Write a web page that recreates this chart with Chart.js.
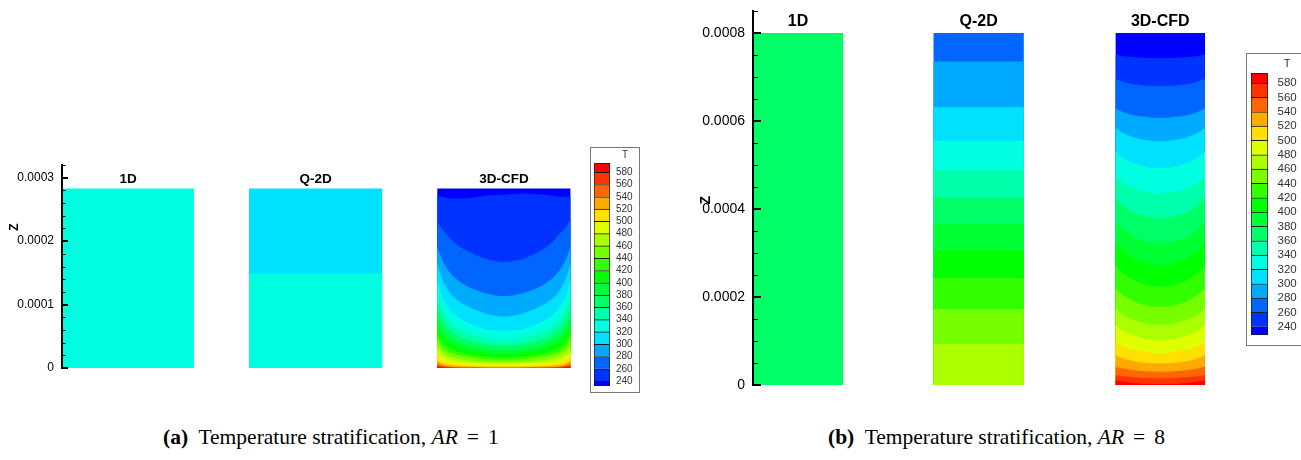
<!DOCTYPE html>
<html><head><meta charset="utf-8">
<script src="https://cdn.jsdelivr.net/npm/chart.js@4.4.1/dist/chart.umd.min.js"></script>
<style>
html,body{margin:0;padding:0;background:#fff;width:1301px;height:460px;overflow:hidden;position:relative;}
canvas{position:absolute;display:block;}
.cap{position:absolute;font-family:'Liberation Serif','Times New Roman',serif;font-size:21.5px;color:#000;white-space:nowrap;line-height:22px;}
.cap .eq{margin:0 9px;}
.cbox{position:absolute;border:1px solid #777;background:#fff;}
.tlab{position:absolute;font-family:'Liberation Sans',Arial,sans-serif;color:#333;transform:translate(-50%,-50%);line-height:1;}
</style></head><body>
<div class="cbox" style="left:590px;top:147px;width:48px;height:244px"></div>
<div class="cbox" style="left:1246px;top:53px;width:80px;height:291px"></div>
<canvas id="mainA" width="572" height="223" style="left:0;top:155px"></canvas>
<canvas id="cbA" width="45" height="239" style="left:594px;top:155px"></canvas>
<canvas id="mainB" width="516" height="395" style="left:690px;top:0"></canvas>
<canvas id="cbB" width="50" height="278" style="left:1251px;top:65px"></canvas>
<div class="tlab" style="left:625px;top:155px;font-size:10px">T</div>
<div class="tlab" style="left:1287px;top:63px;font-size:11px">T</div>
<div class="cap" style="left:163px;top:426px"><b>(a)</b>&nbsp; Temperature stratification, <i>AR</i><span class="eq">=</span>1</div>
<div class="cap" style="left:828px;top:426px"><b>(b)</b>&nbsp; Temperature stratification, <i>AR</i><span class="eq">=</span>8</div>
<script>
// ---------------- DATA ----------------
const Z_UNIT = 1e-4;                      // heights below are in units of 1e-4 (Z axis)
const columns = ['1D', 'Q-2D', '3D-CFD'];
const levels = [240,260,280,300,320,340,360,380,400,420,440,460,480,500,520,540,560,580];
const bandColors = ['#0000FF','#0033FF','#0066FF','#00AAFF','#00E0FF','#00FFE0','#00FFAA','#00FF66','#00FF33',
                    '#00FF00','#33FF00','#77FF00','#AAFF00','#DDFF00','#FFE000','#FFAA00','#FF6600','#FF3300','#FF0000'];
const yTicksA = [0, 0.0001, 0.0002, 0.0003];
const yTicksB = [0, 0.0002, 0.0004, 0.0006, 0.0008];

// Panel (a) AR = 1
const heightA = 2.83;
const oneD_A_T = 330;
const q2dA_bounds = [0, 1.49, 2.83];
const q2dA_T = [330, 310];
const cfdA_x = [0, 0.03, 0.08, 0.15, 0.25, 0.375, 0.5, 0.625, 0.75, 0.85, 0.92, 0.97, 1];
const cfdA_iso = [
  /*240*/ [2.71, 2.70, 2.68, 2.67, 2.68, 2.72, 2.73, 2.75, 2.74, 2.72, 2.70, 2.70, 2.70],
  /*260*/ [2.31, 2.21, 2.08, 1.94, 1.82, 1.71, 1.67, 1.71, 1.82, 1.96, 2.12, 2.24, 2.34],
  /*280*/ [1.91, 1.74, 1.55, 1.39, 1.26, 1.17, 1.13, 1.17, 1.26, 1.39, 1.55, 1.74, 1.91],
  /*300*/ [1.66, 1.45, 1.23, 1.07, 0.95, 0.85, 0.81, 0.85, 0.95, 1.07, 1.23, 1.45, 1.66],
  /*320*/ [1.39, 1.17, 0.96, 0.81, 0.69, 0.61, 0.58, 0.61, 0.69, 0.81, 0.96, 1.17, 1.39],
  /*340*/ [1.18, 0.96, 0.77, 0.63, 0.54, 0.47, 0.44, 0.47, 0.54, 0.63, 0.77, 0.96, 1.18],
  /*360*/ [0.99, 0.79, 0.63, 0.51, 0.43, 0.37, 0.35, 0.37, 0.43, 0.51, 0.63, 0.79, 0.99],
  /*380*/ [0.84, 0.66, 0.52, 0.42, 0.35, 0.30, 0.28, 0.30, 0.35, 0.42, 0.52, 0.66, 0.84],
  /*400*/ [0.71, 0.55, 0.43, 0.34, 0.28, 0.24, 0.22, 0.24, 0.28, 0.34, 0.43, 0.55, 0.71],
  /*420*/ [0.57, 0.44, 0.33, 0.26, 0.21, 0.18, 0.17, 0.18, 0.21, 0.26, 0.33, 0.44, 0.57],
  /*440*/ [0.47, 0.35, 0.26, 0.21, 0.17, 0.14, 0.13, 0.14, 0.17, 0.21, 0.26, 0.35, 0.47],
  /*460*/ [0.36, 0.27, 0.20, 0.15, 0.12, 0.10, 0.095, 0.10, 0.12, 0.15, 0.20, 0.27, 0.36],
  /*480*/ [0.27, 0.20, 0.14, 0.11, 0.085, 0.070, 0.062, 0.070, 0.085, 0.11, 0.14, 0.20, 0.27],
  /*500*/ [0.19, 0.13, 0.085, 0.060, 0.045, 0.035, 0.030, 0.035, 0.045, 0.060, 0.085, 0.13, 0.19],
  /*520*/ [0.12, 0.080, 0.050, 0.035, 0.024, 0.020, 0.018, 0.020, 0.024, 0.035, 0.050, 0.080, 0.12],
  /*540*/ [0.075, 0.045, 0.025, 0.015, 0.010, 0.008, 0.007, 0.008, 0.010, 0.015, 0.025, 0.045, 0.075],
  /*560*/ [0.045, 0.025, 0.012, 0.005, 0.002, 0, 0, 0, 0.002, 0.005, 0.012, 0.025, 0.045],
  /*580*/ [0.022, 0.010, 0.002, 0, 0, 0, 0, 0, 0, 0, 0.002, 0.010, 0.022]
];

// Panel (b) AR = 8
const heightB = 8.0;
const oneD_B_T = 370;
const q2dB_bounds = [0, 0.93, 1.73, 2.43, 3.06, 3.66, 4.27, 4.89, 5.55, 6.31, 7.35, 8.0];
const q2dB_T = [470, 450, 430, 410, 390, 370, 350, 330, 310, 290, 270];
const cfdB_x = [0, 0.05, 0.15, 0.3, 0.5, 0.7, 0.85, 0.95, 1];
const cfdB_iso = [
  /*240*/ [7.51, 7.49, 7.46, 7.44, 7.43, 7.44, 7.46, 7.49, 7.51],
  /*260*/ [6.96, 6.92, 6.86, 6.81, 6.79, 6.81, 6.86, 6.92, 6.96],
  /*280*/ [6.29, 6.24, 6.16, 6.10, 6.07, 6.10, 6.16, 6.24, 6.29],
  /*300*/ [5.84, 5.77, 5.67, 5.58, 5.54, 5.58, 5.67, 5.77, 5.84],
  /*320*/ [5.31, 5.22, 5.09, 4.98, 4.93, 4.98, 5.09, 5.22, 5.31],
  /*340*/ [4.74, 4.65, 4.52, 4.41, 4.36, 4.41, 4.52, 4.65, 4.74],
  /*360*/ [4.25, 4.14, 3.98, 3.85, 3.79, 3.85, 3.98, 4.14, 4.25],
  /*380*/ [3.72, 3.60, 3.43, 3.29, 3.22, 3.29, 3.43, 3.60, 3.72],
  /*400*/ [3.26, 3.13, 2.95, 2.80, 2.73, 2.80, 2.95, 3.13, 3.26],
  /*420*/ [2.73, 2.61, 2.45, 2.30, 2.24, 2.30, 2.45, 2.61, 2.73],
  /*440*/ [2.20, 2.10, 1.96, 1.83, 1.78, 1.83, 1.96, 2.10, 2.20],
  /*460*/ [1.74, 1.65, 1.53, 1.42, 1.37, 1.42, 1.53, 1.65, 1.74],
  /*480*/ [1.37, 1.28, 1.17, 1.07, 1.02, 1.07, 1.17, 1.28, 1.37],
  /*500*/ [0.99, 0.92, 0.83, 0.76, 0.72, 0.76, 0.83, 0.92, 0.99],
  /*520*/ [0.68, 0.63, 0.57, 0.51, 0.49, 0.51, 0.57, 0.63, 0.68],
  /*540*/ [0.42, 0.39, 0.35, 0.32, 0.30, 0.32, 0.35, 0.39, 0.42],
  /*560*/ [0.23, 0.21, 0.18, 0.16, 0.15, 0.16, 0.18, 0.21, 0.23],
  /*580*/ [0.11, 0.09, 0.06, 0.03, 0.02, 0.03, 0.06, 0.09, 0.11]
];

// ---------------- LAYOUT ----------------
const layoutA = { cols: [[0, 0.99], [1.40, 2.40], [2.81, 3.81]], xMax: 3.82, yMax: 0.00032,
  minorStep: 0.00002, axisW: 62, pad: {top: 10, bottom: 10},
  tickFont: 12, titleFont: 'bold 13.5px "Liberation Sans", Arial, sans-serif', titleAt: 0.000297,
  zFont: 'bold 12px "Liberation Sans", Arial, sans-serif', zAt: 0.000222,
  majorLen: 6, minorLen: 3.5 };
const layoutB = { cols: [[0, 0.994], [1.99, 2.99], [4.0, 4.99]], xMax: 5.0, yMax: 0.00085,
  minorStep: 0.00005, axisW: 63, pad: {top: 11, bottom: 10},
  tickFont: 14, titleFont: 'bold 16px "Liberation Sans", Arial, sans-serif', titleAt: 0.000825,
  zFont: 'bold 14px "Liberation Sans", Arial, sans-serif', zAt: 0.00042,
  majorLen: 8, minorLen: 5 };

// ---------------- HELPERS ----------------
function colorOfT(T) { let i = 0; while (i < levels.length && T >= levels[i]) i++; return bandColors[i]; }
function rect(col, top, color, order) {
  return { data: [{x: col[0], y: top * Z_UNIT}, {x: col[1], y: top * Z_UNIT}], backgroundColor: color,
           borderColor: 'rgba(0,0,0,0)', borderWidth: 0, pointRadius: 0, fill: 'origin', tension: 0, order };
}
function curve(col, xs, ys, color, order) {
  const w = col[1] - col[0];
  return { data: xs.map((f, i) => ({x: col[0] + f * w, y: ys[i] * Z_UNIT})), backgroundColor: color,
           borderColor: 'rgba(0,0,0,0)', borderWidth: 0, pointRadius: 0, fill: 'origin',
           cubicInterpolationMode: 'monotone', order };
}
function buildDatasets(L, height, oneT, qBounds, qT, cx, iso) {
  const ds = [];
  ds.push(rect(L.cols[0], height, colorOfT(oneT), 0));
  for (let i = qT.length - 1; i >= 0; i--) ds.push(rect(L.cols[1], qBounds[i + 1], colorOfT(qT[i]), 100 + i));
  ds.push(rect(L.cols[2], height, bandColors[0], 500));
  iso.forEach((ys, k) => ds.push(curve(L.cols[2], cx, ys, bandColors[k + 1], 480 - k)));
  return ds;
}
// fixed axis width; drop the label overhang padding so the layout padding alone sets the plot rows
function fixAxis(w) { return s => { s.width = w; s.paddingTop = 0; s.paddingBottom = 0; }; }

const decor = {
  id: 'decor',
  afterDatasetsDraw(chart, args, o) {
    if (!o || !o.on) return;
    const ctx = chart.ctx, ys = chart.scales.y, xs = chart.scales.x, ca = chart.chartArea;
    ctx.save();
    ctx.strokeStyle = '#000';
    const n = Math.round(o.yMax / o.minorStep);
    for (let i = 0; i <= n; i++) {
      const v = i * o.minorStep;
      const isMajor = o.majors.some(m => Math.abs(m - v) < o.minorStep / 10);
      const py = Math.round(ys.getPixelForValue(v)) + (isMajor ? 0 : 0.5);
      ctx.lineWidth = isMajor ? 2 : 1;
      ctx.beginPath(); ctx.moveTo(ca.left, py); ctx.lineTo(ca.left + (isMajor ? o.majorLen : o.minorLen), py); ctx.stroke();
    }
    ctx.fillStyle = '#000'; ctx.textAlign = 'center'; ctx.textBaseline = 'middle';
    ctx.font = o.titleFont;
    o.titles.forEach((t, i) => {
      const c = o.cols[i];
      ctx.fillText(t, xs.getPixelForValue((c[0] + c[1]) / 2), ys.getPixelForValue(o.titleAt));
    });
    ctx.translate(ca.left - 47, ys.getPixelForValue(o.zAt));
    ctx.rotate(-Math.PI / 2);
    ctx.font = o.zFont;
    ctx.fillText('Z', 0, 0);
    ctx.restore();
  }
};
Chart.register(decor);

function makeMain(id, L, ticks, datasets) {
  new Chart(document.getElementById(id), {
    type: 'line',
    data: { datasets },
    options: {
      animation: false, responsive: false, devicePixelRatio: 1, events: [],
      layout: { padding: { top: L.pad.top, bottom: L.pad.bottom, left: 0, right: 0 } },
      plugins: { legend: { display: false }, tooltip: { enabled: false },
        decor: { on: true, majors: ticks, minorStep: L.minorStep, yMax: L.yMax, majorLen: L.majorLen,
                 minorLen: L.minorLen, titles: columns, cols: L.cols, titleFont: L.titleFont,
                 titleAt: L.titleAt, zFont: L.zFont, zAt: L.zAt } },
      scales: {
        x: { type: 'linear', min: 0, max: L.xMax, display: false },
        y: { type: 'linear', min: 0, max: L.yMax, position: 'left',
             grid: { display: false, drawTicks: false },
             border: { display: true, color: '#000', width: 2, z: 1 },
             ticks: { autoSkip: false, padding: 8, color: '#000',
                      font: { family: '"Liberation Sans", Arial, sans-serif', size: L.tickFont },
                      callback: v => v === 0 ? '0' : v.toFixed(4) },
             afterBuildTicks: s => { s.ticks = ticks.map(v => ({ value: v })); },
             afterFit: fixAxis(L.axisW) }
      }
    }
  });
}

function makeColorbar(id, min, max, fontSize, pad, axisW) {
  const datasets = bandColors.map((c, i) => ({
    data: [[i === 0 ? min : levels[i - 1], i === levels.length ? max : levels[i]]],
    backgroundColor: c, borderColor: '#1a1a1a',
    borderWidth: { top: 1, left: 1, right: 1, bottom: i === 0 ? 1 : 0 }, borderSkipped: false,
    barPercentage: 1, categoryPercentage: 1
  }));
  new Chart(document.getElementById(id), {
    type: 'bar',
    data: { labels: [''], datasets },
    options: {
      animation: false, responsive: false, devicePixelRatio: 1, events: [],
      layout: { padding: { top: 8, bottom: 8, left: 0, right: 0 } },
      plugins: { legend: { display: false }, tooltip: { enabled: false }, decor: { on: false } },
      scales: {
        x: { display: false, stacked: true },
        y: { position: 'right', min, max, stacked: false,
             grid: { display: false, drawTicks: false }, border: { display: false },
             ticks: { autoSkip: false, padding: pad, color: '#333',
                      font: { family: '"Liberation Sans", Arial, sans-serif', size: fontSize } },
             afterBuildTicks: s => { s.ticks = levels.map(v => ({ value: v })); },
             afterFit: fixAxis(axisW) }
      }
    }
  });
}

makeMain('mainA', layoutA, yTicksA, buildDatasets(layoutA, heightA, oneD_A_T, q2dA_bounds, q2dA_T, cfdA_x, cfdA_iso));
makeMain('mainB', layoutB, yTicksB, buildDatasets(layoutB, heightB, oneD_B_T, q2dB_bounds, q2dB_T, cfdB_x, cfdB_iso));
makeColorbar('cbA', 232, 595, 10, 6, 29);
makeColorbar('cbB', 228.5, 594, 11.5, 9.5, 33);
</script>
</body></html>
